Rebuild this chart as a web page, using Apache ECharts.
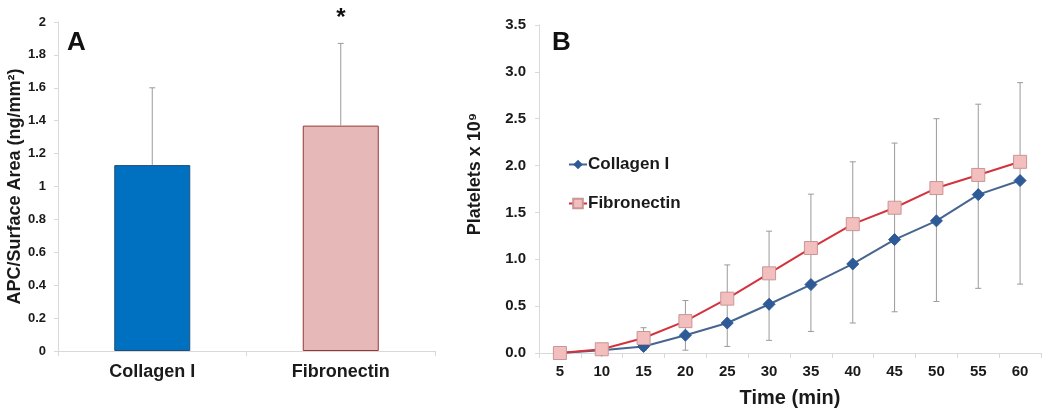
<!DOCTYPE html>
<html>
<head>
<meta charset="utf-8">
<script src="https://cdn.jsdelivr.net/npm/echarts@6/dist/echarts.min.js"></script>
<style>
html,body{margin:0;padding:0;background:#fff;}
#chart{width:1050px;height:413px;}
</style>
</head>
<body>
<div id="chart"></div>
<script>
// Panel A data
const aCategories = ['Collagen I', 'Fibronectin'];
const aValues = [1.13, 1.37];
const aErrTop = [1.60, 1.87];
// Panel B data
const bTimes = ['5', '10', '15', '20', '25', '30', '35', '40', '45', '50', '55', '60'];
const bCollagen = [0, 0.03, 0.07, 0.19, 0.32, 0.52, 0.73, 0.95, 1.21, 1.41, 1.69, 1.84];
const bFibronectin = [0, 0.04, 0.16, 0.34, 0.58, 0.85, 1.12, 1.375, 1.55, 1.76, 1.90, 2.04];
const bErrHigh = [0, 0.06, 0.27, 0.56, 0.94, 1.30, 1.695, 2.04, 2.24, 2.50, 2.655, 2.885];
const bErrLow = [0, 0.01, 0.03, 0.03, 0.07, 0.135, 0.23, 0.32, 0.44, 0.55, 0.69, 0.735];

const FONT = 'Liberation Sans, Arial, sans-serif';
const AXIS_COLOR = '#D9D9D9';
const TEXT_COLOR = '#1a1a1a';

function errRender(bottomCap) {
  return function (params, api) {
    const x = api.value(0), lo = api.value(1), hi = api.value(2);
    const pLo = api.coord([x, lo]);
    const pHi = api.coord([x, hi]);
    const cap = 3;
    const st = { stroke: '#9a9a9a', lineWidth: 1 };
    const children = [
      { type: 'line', shape: { x1: pLo[0], y1: pLo[1], x2: pHi[0], y2: pHi[1] }, style: st },
      { type: 'line', shape: { x1: pHi[0] - cap, y1: pHi[1], x2: pHi[0] + cap, y2: pHi[1] }, style: st }
    ];
    if (bottomCap) {
      children.push({ type: 'line', shape: { x1: pLo[0] - cap, y1: pLo[1], x2: pLo[0] + cap, y2: pLo[1] }, style: st });
    }
    return { type: 'group', children: children };
  };
}

const chart = echarts.init(document.getElementById('chart'), null, { renderer: 'canvas' });

const option = {
  animation: false,
  backgroundColor: '#fff',
  textStyle: { fontFamily: FONT },
  grid: [
    { left: 58, top: 22, width: 377, height: 329 },
    { left: 539, top: 25, width: 502, height: 328 }
  ],
  legend: {
    orient: 'vertical',
    left: 563,
    top: 151,
    itemGap: 22,
    itemWidth: 18,
    itemHeight: 12,
    data: ['Collagen I', 'Fibronectin'],
    textStyle: { fontFamily: FONT, fontWeight: 'bold', fontSize: 17, color: TEXT_COLOR, padding: [0, 0, 0, -4] }
  },
  xAxis: [
    {
      type: 'category', gridIndex: 0, data: aCategories,
      axisLine: { lineStyle: { color: AXIS_COLOR } },
      axisTick: { show: true, length: 5, lineStyle: { color: AXIS_COLOR } },
      axisLabel: { fontFamily: FONT, fontWeight: 'bold', fontSize: 18, color: TEXT_COLOR, margin: 12 }
    },
    {
      type: 'category', gridIndex: 1, data: bTimes,
      name: 'Time (min)', nameLocation: 'middle', nameGap: 35,
      nameTextStyle: { fontFamily: FONT, fontWeight: 'bold', fontSize: 20, color: TEXT_COLOR },
      axisLine: { lineStyle: { color: AXIS_COLOR } },
      axisTick: { show: true, length: 5, lineStyle: { color: AXIS_COLOR } },
      axisLabel: { fontFamily: FONT, fontWeight: 'bold', fontSize: 15, color: TEXT_COLOR, margin: 11 }
    }
  ],
  yAxis: [
    {
      type: 'value', gridIndex: 0, min: 0, max: 2, interval: 0.2,
      name: 'APC/Surface Area (ng/mm²)', nameLocation: 'middle', nameGap: 34,
      nameTextStyle: { fontFamily: FONT, fontWeight: 'bold', fontSize: 18, color: TEXT_COLOR },
      axisLine: { show: true, lineStyle: { color: AXIS_COLOR } },
      axisTick: { show: true, length: 4, lineStyle: { color: AXIS_COLOR } },
      splitLine: { show: false },
      axisLabel: { fontFamily: FONT, fontWeight: 'bold', fontSize: 13, color: TEXT_COLOR, margin: 12 }
    },
    {
      type: 'value', gridIndex: 1, min: 0, max: 3.5, interval: 0.5,
      name: 'Platelets x 10⁹', nameLocation: 'middle', nameGap: 55,
      nameTextStyle: { fontFamily: FONT, fontWeight: 'bold', fontSize: 18, color: TEXT_COLOR, padding: [0, 0, 0, 30] },
      axisLine: { show: true, lineStyle: { color: AXIS_COLOR } },
      axisTick: { show: true, length: 4, lineStyle: { color: AXIS_COLOR } },
      splitLine: { show: false },
      axisLabel: {
        fontFamily: FONT, fontWeight: 'bold', fontSize: 15, color: TEXT_COLOR, margin: 13,
        formatter: function (v) { return v.toFixed(1); }
      }
    }
  ],
  graphic: [
    { type: 'text', left: 67, top: 30, style: { text: 'A', font: 'bold 26px ' + FONT, fill: '#111' } },
    { type: 'text', left: 552, top: 30, style: { text: 'B', font: 'bold 26px ' + FONT, fill: '#111' } },
    { type: 'text', x: 341, y: 18, style: { text: '*', font: 'bold 24px ' + FONT, fill: '#111', align: 'center', verticalAlign: 'middle' } }
  ],
  series: [
    {
      type: 'bar', xAxisIndex: 0, yAxisIndex: 0, barWidth: 76,
      data: aValues.map(function (v, i) {
        return {
          value: v,
          itemStyle: i === 0
            ? { color: '#0070C0', borderColor: '#1F4E79', borderWidth: 1 }
            : { color: '#E6B9B8', borderColor: '#953735', borderWidth: 1 }
        };
      })
    },
    {
      type: 'custom', xAxisIndex: 0, yAxisIndex: 0, z: 3,
      renderItem: errRender(false),
      encode: { x: 0, y: [1, 2] },
      data: aValues.map(function (v, i) { return [i, v, aErrTop[i]]; })
    },
    {
      type: 'custom', xAxisIndex: 1, yAxisIndex: 1, z: 1,
      renderItem: errRender(true),
      encode: { x: 0, y: [1, 2] },
      data: bTimes.map(function (t, i) { return [i, bErrLow[i], bErrHigh[i]]; })
    },
    {
      name: 'Collagen I', type: 'line', xAxisIndex: 1, yAxisIndex: 1, z: 3,
      data: bCollagen,
      symbol: 'diamond', symbolSize: 12,
      lineStyle: { color: '#46658F', width: 2 },
      itemStyle: { color: '#2E5A98', borderColor: '#2E5A98' }
    },
    {
      name: 'Fibronectin', type: 'line', xAxisIndex: 1, yAxisIndex: 1, z: 4,
      data: bFibronectin,
      symbol: 'rect', symbolSize: 13,
      lineStyle: { color: '#D3333D', width: 2 },
      itemStyle: { color: '#F2BEBE', borderColor: '#C99595', borderWidth: 1 }
    }
  ]
};
chart.setOption(option);
</script>
</body>
</html>
